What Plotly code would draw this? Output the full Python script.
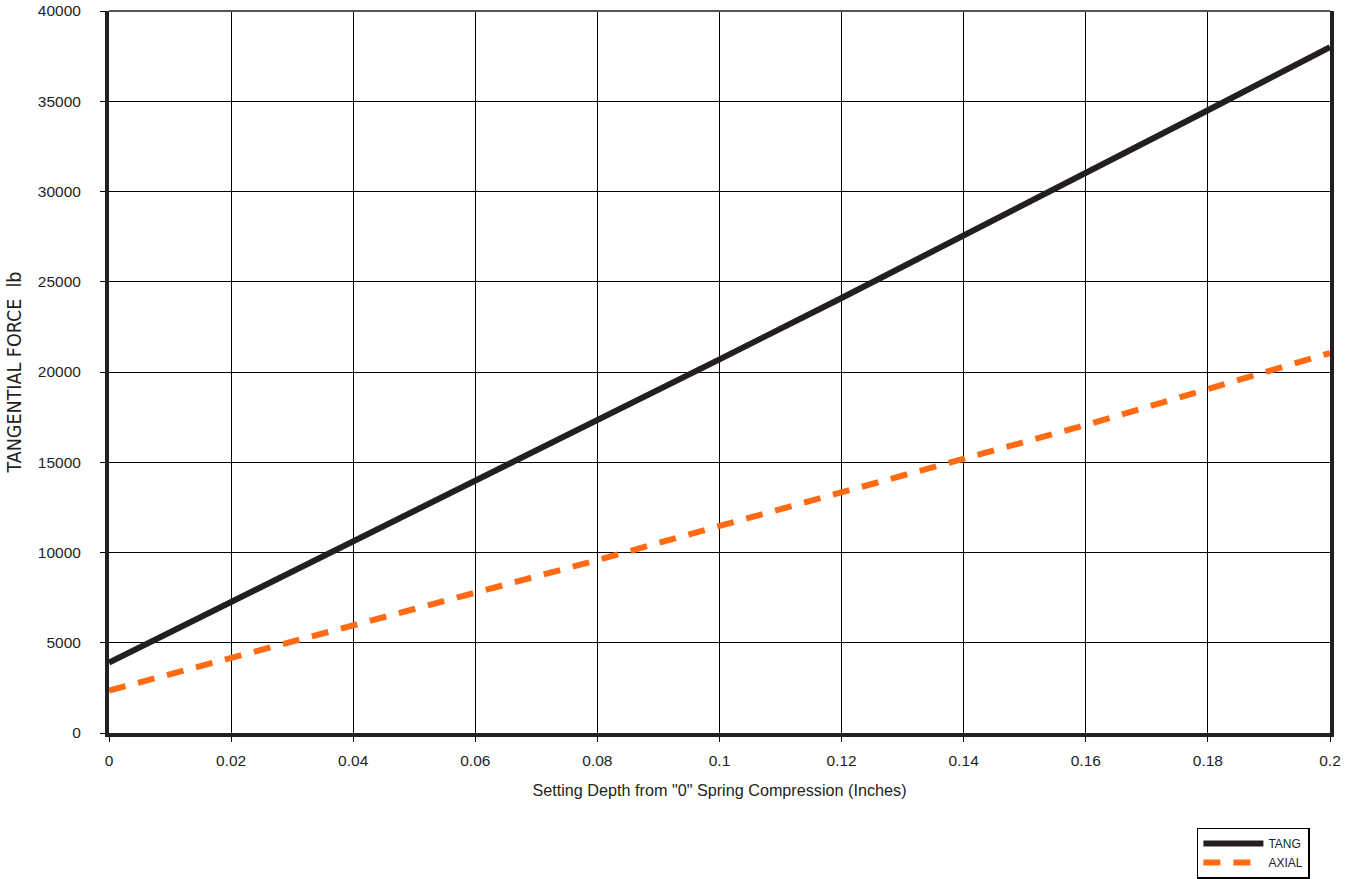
import plotly.graph_objects as go

depth = [0, 0.02, 0.04, 0.06, 0.08, 0.1, 0.12, 0.14, 0.16, 0.18, 0.2]
tang = [3900, 7250, 10600, 13950, 17300, 20700, 24100, 27550, 31050, 34500, 38000]
axial = [2350, 4150, 5930, 7760, 9580, 11470, 13350, 15180, 17060, 19060, 21050]

x_ticks = [0, 0.02, 0.04, 0.06, 0.08, 0.1, 0.12, 0.14, 0.16, 0.18, 0.2]
x_labels = ["0", "0.02", "0.04", "0.06", "0.08", "0.1", "0.12", "0.14", "0.16", "0.18", "0.2"]
y_ticks = [0, 5000, 10000, 15000, 20000, 25000, 30000, 35000, 40000]
y_labels = ["0", "5000", "10000", "15000", "20000", "25000", "30000", "35000", "40000"]

fig = go.Figure()
fig.add_trace(go.Scatter(x=depth, y=tang, mode="lines", name="TANG",
                         line=dict(color="#231f20", width=6)))
fig.add_trace(go.Scatter(x=depth, y=axial, mode="lines", name="AXIAL",
                         line=dict(color="#ff6a13", width=6, dash="17px,13px")))

font = "Liberation Sans, Arial, Helvetica, sans-serif"
fig.update_layout(
    width=1351, height=879,
    margin=dict(l=109, r=21, t=11, b=146, autoexpand=False),
    paper_bgcolor="white", plot_bgcolor="white",
    font=dict(family=font, size=15.5, color="#231f20"),
    showlegend=True,
    legend=dict(x=0.891, y=-0.131, xanchor="left", yanchor="top",
                bordercolor="black", borderwidth=1.5, bgcolor="white",
                font=dict(size=12, color="#231f20"), tracegroupgap=0,
                itemwidth=60),
    xaxis=dict(range=[0, 0.2], tickvals=x_ticks, ticktext=x_labels,
               automargin=False, ticklabeloverflow="allow",
               showgrid=True, gridcolor="black", gridwidth=1,
               showline=True, linecolor="#231f20", linewidth=4,
               ticks="outside", ticklen=5, tickcolor="black",
               ticklabelstandoff=5,
               zeroline=False,
               title=dict(text='Setting Depth from "0" Spring Compression (Inches)',
                          font=dict(size=16.2), standoff=18)),
    yaxis=dict(range=[0, 40000], tickvals=y_ticks, ticktext=y_labels,
               automargin=False, ticklabeloverflow="allow",
               showgrid=True, gridcolor="black", gridwidth=1,
               showline=True, linecolor="#231f20", linewidth=4, mirror=True,
               ticks="outside", ticklen=5, tickcolor="black",
               ticklabelstandoff=16,
               zeroline=False,
               title=dict(text="TANGENTIAL FORCE  lb",
                          font=dict(size=19.5, family="DejaVu Sans Condensed, Liberation Sans"),
                          standoff=12)),
)
fig.add_shape(type="line", xref="paper", yref="paper", x0=0, x1=1, y0=1, y1=1,
              line=dict(color="#555555", width=2))

fig.write_html("out.html", config={"displayModeBar": False},
               post_script="document.body.style.margin='0px';")
